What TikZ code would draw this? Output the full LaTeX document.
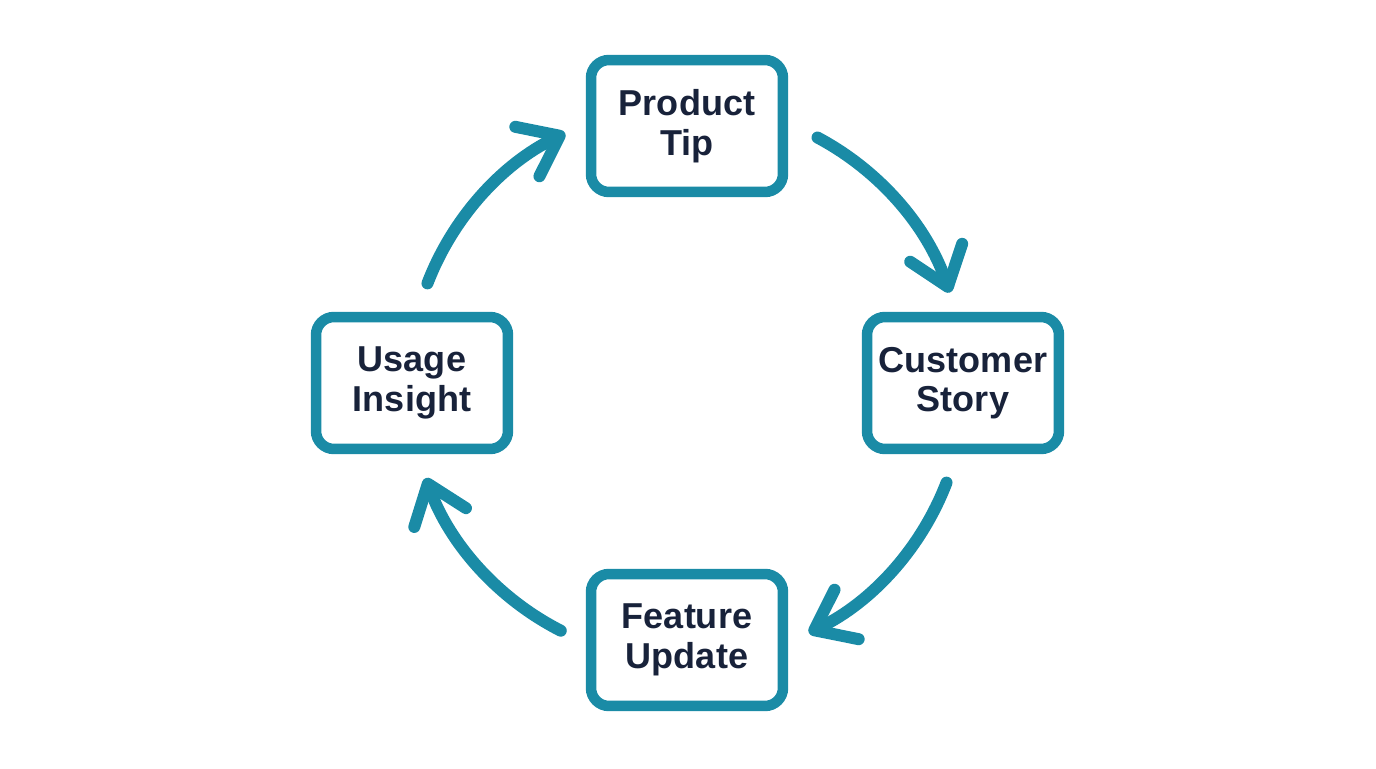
\documentclass[tikz,border=0pt]{standalone}
\usepackage{fontspec}
\setmainfont{Liberation Sans}
\usetikzlibrary{arrows.meta,positioning}

\definecolor{loopteal}{HTML}{1A8BA6}
\definecolor{labelnavy}{HTML}{18223A}

\begin{document}
\begin{tikzpicture}[x=0.02cm, y=0.02cm]
\tikzset{stage/.style={draw=loopteal, line width=0.21cm, rounded corners=0.36cm,
    minimum width=3.84cm, minimum height=2.64cm, align=center,
    font=\fontsize{20.5}{22.5}\selectfont\bfseries, text=labelnavy}}
\tikzset{cycle arrow/.style={draw=loopteal, line width=0.24cm, line cap=round,
    -{Straight Barb[length=0.72cm, width=1.1cm, line cap=round, line join=round]}}}
\useasboundingbox (-687,-385) rectangle (689,383);
				\coordinate (hub) at (0,0);
				% the four stages
				\node[stage] (tip) at (0,257) {Product\\Tip};
				\node[stage] (story) at (276,0) {Customer\\Story};
				\node[stage] (update) at (0,-257) {Feature\\Update};
				\node[stage] (insight) at (-275,0) {Usage\\Insight};
				% arcs running clockwise round the hub
				\draw[cycle arrow] ([shift={(62:278)}]hub) arc[start angle=62, end angle=19, radius=278];
				\draw[cycle arrow] ([shift={(-21:278)}]hub) arc[start angle=-21, end angle=-64, radius=278];
				\draw[cycle arrow] ([shift={(-117:278)}]hub) arc[start angle=-117, end angle=-160, radius=278];
				\draw[cycle arrow] ([shift={(159:278)}]hub) arc[start angle=159, end angle=116, radius=278];
\end{tikzpicture}
\end{document}
